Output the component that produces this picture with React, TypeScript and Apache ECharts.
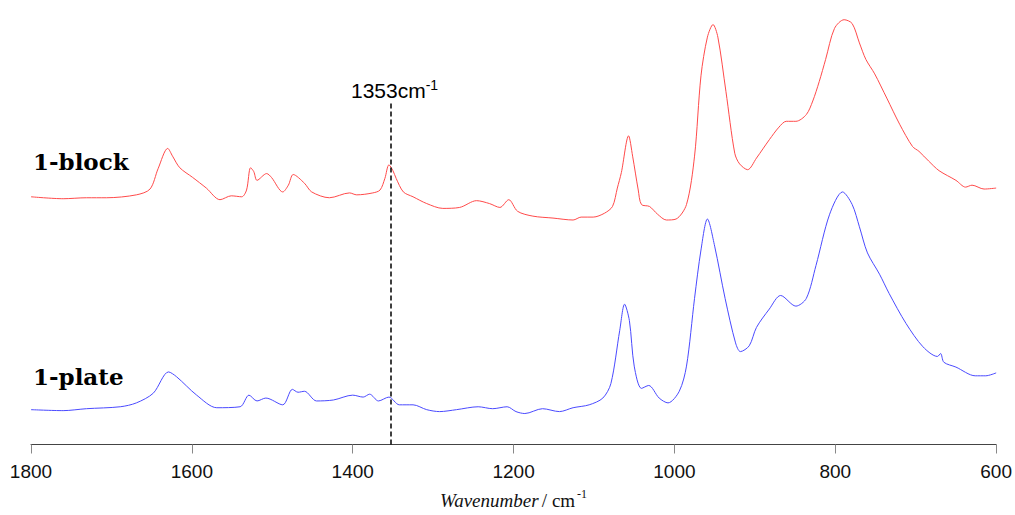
import React, { useEffect, useRef } from "react";
import * as echarts from "echarts";

const blockWavenumbers = [1800,1760,1731,1706,1669,1652,1642,1630,1624,1615,1599,1582,1565,1551,1538,1532,1527,1523,1519,1507,1501,1487,1480,1474,1460,1451,1429,1404,1395,1375,1366,1360,1355,1350,1346,1337,1325,1308,1288,1267,1246,1230,1217,1206,1195,1176,1151,1126,1116,1101,1087,1077,1071,1066,1057,1052,1045,1041,1031,1021,1010,998,985,975,967,959,952,946,936,925,919,909,898,882,870,861,849,836,828,820,812,801,789,779,770,762,751,736,720,704,696,684,671,650,638,630,615,600];
const blockValues = [2.56,2.54,2.55,2.55,2.58,2.64,2.85,3.06,2.98,2.86,2.76,2.65,2.53,2.57,2.56,2.63,2.86,2.82,2.73,2.80,2.76,2.61,2.68,2.79,2.70,2.61,2.55,2.60,2.58,2.60,2.63,2.75,2.89,2.83,2.75,2.61,2.56,2.49,2.44,2.45,2.52,2.49,2.45,2.53,2.41,2.36,2.34,2.32,2.35,2.35,2.39,2.46,2.65,2.81,3.19,2.98,2.63,2.48,2.46,2.38,2.32,2.33,2.48,2.98,3.81,4.21,4.34,4.21,3.65,3.01,2.90,2.84,2.96,3.15,3.28,3.34,3.34,3.41,3.55,3.75,3.98,4.30,4.39,4.35,4.15,3.98,3.83,3.58,3.31,3.08,3.03,2.93,2.83,2.73,2.66,2.68,2.64,2.65];

const plateWavenumbers = [1800,1760,1731,1689,1669,1648,1629,1619,1594,1569,1540,1529,1519,1508,1487,1475,1468,1460,1445,1424,1400,1387,1379,1368,1355,1342,1325,1308,1292,1271,1244,1226,1208,1197,1186,1164,1143,1126,1106,1089,1079,1068,1062,1056,1050,1041,1032,1019,1008,994,985,975,967,959,950,937,924,918,907,898,882,868,849,836,824,807,791,779,770,760,745,733,712,691,673,669,665,650,626,613,600];
const plateValues = [0.36,0.35,0.37,0.39,0.43,0.53,0.75,0.70,0.51,0.38,0.39,0.51,0.45,0.48,0.41,0.57,0.54,0.55,0.45,0.46,0.51,0.49,0.52,0.45,0.49,0.41,0.41,0.36,0.34,0.36,0.39,0.37,0.39,0.34,0.32,0.37,0.34,0.38,0.41,0.48,0.63,1.18,1.45,1.28,0.81,0.58,0.61,0.48,0.43,0.55,0.81,1.51,2.01,2.33,2.05,1.51,1.05,0.96,1.02,1.21,1.40,1.54,1.43,1.51,1.85,2.38,2.61,2.48,2.25,1.98,1.76,1.56,1.25,1.01,0.91,0.94,0.85,0.80,0.71,0.71,0.74];

const xTicks = [1800, 1600, 1400, 1200, 1000, 800, 600];
const markerWavenumber = 1353;
const markerTop = 3.53;
const seriesNames = ["1-block", "1-plate"];

export default function App() {
  const ref = useRef<HTMLDivElement>(null);
  useEffect(() => {
    if (!ref.current) return;
    const chart = echarts.init(ref.current, null, { renderer: "svg" });
    const blockData = blockWavenumbers.map((w, i) => [w, blockValues[i]]);
    const plateData = plateWavenumbers.map((w, i) => [w, plateValues[i]]);
    chart.setOption({
      animation: false,
      backgroundColor: "#ffffff",
      grid: { left: 31, right: 18, top: 11, bottom: 56, containLabel: false },
      xAxis: {
        type: "value",
        inverse: true,
        min: 600,
        max: 1800,
        interval: 200,
        axisLine: { lineStyle: { color: "#444", width: 1 } },
        axisTick: { show: true, length: 9, lineStyle: { color: "#888" } },
        splitLine: { show: false },
        axisLabel: {
          color: "#111",
          fontSize: 19,
          fontFamily: "Liberation Sans",
          margin: 17,
          formatter: (v: number) => (xTicks.includes(v) ? String(v) : ""),
        },
        name: "{i|Wavenumber} {n|/ cm}{s|-1}",
        nameLocation: "middle",
        nameGap: 43,
        nameTextStyle: {
          rich: {
            i: { fontFamily: "Liberation Serif", fontStyle: "italic", fontSize: 19, color: "#111" },
            n: { fontFamily: "Liberation Serif", fontSize: 19, color: "#111" },
            s: { fontFamily: "Liberation Serif", fontSize: 12, color: "#111", padding: [0, 0, 14, 2] },
          },
        },
      },
      yAxis: {
        type: "value",
        min: 0,
        max: 4.48,
        show: false,
      },
      series: [
        {
          name: seriesNames[0],
          type: "line",
          data: blockData,
          showSymbol: false,
          smooth: 0.3,
          lineStyle: { color: "#ff4a4a", width: 1 },
          markLine: {
            silent: true,
            symbol: "none",
            label: { show: false },
            lineStyle: { color: "#000", type: [5, 3], width: 1.5 },
            data: [[{ coord: [markerWavenumber, 0] }, { coord: [markerWavenumber, markerTop] }]],
          },
        },
        {
          name: seriesNames[1],
          type: "line",
          data: plateData,
          showSymbol: false,
          smooth: 0.3,
          lineStyle: { color: "#4a4aff", width: 1 },
        },
      ],
      graphic: [
        {
          type: "text",
          left: 33,
          top: 150,
          style: { text: seriesNames[0], font: "bold 23px 'DejaVu Serif'", fill: "#000" },
        },
        {
          type: "text",
          left: 33,
          top: 365,
          style: { text: seriesNames[1], font: "bold 23px 'DejaVu Serif'", fill: "#000" },
        },
        {
          type: "text",
          left: 351,
          top: 78,
          style: {
            text: "{a|" + markerWavenumber + "cm}{b|-1}",
            rich: {
              a: { fontSize: 21, fontFamily: "Liberation Sans", fill: "#000" },
              b: { fontSize: 14, fontFamily: "Liberation Sans", fill: "#000", padding: [0, 0, 10, 0] },
            },
          },
        },
      ],
    });
    return () => chart.dispose();
  }, []);
  return (
    <div
      ref={ref}
      style={{ position: "fixed", left: 0, top: 0, width: 1015, height: 515 }}
    />
  );
}
